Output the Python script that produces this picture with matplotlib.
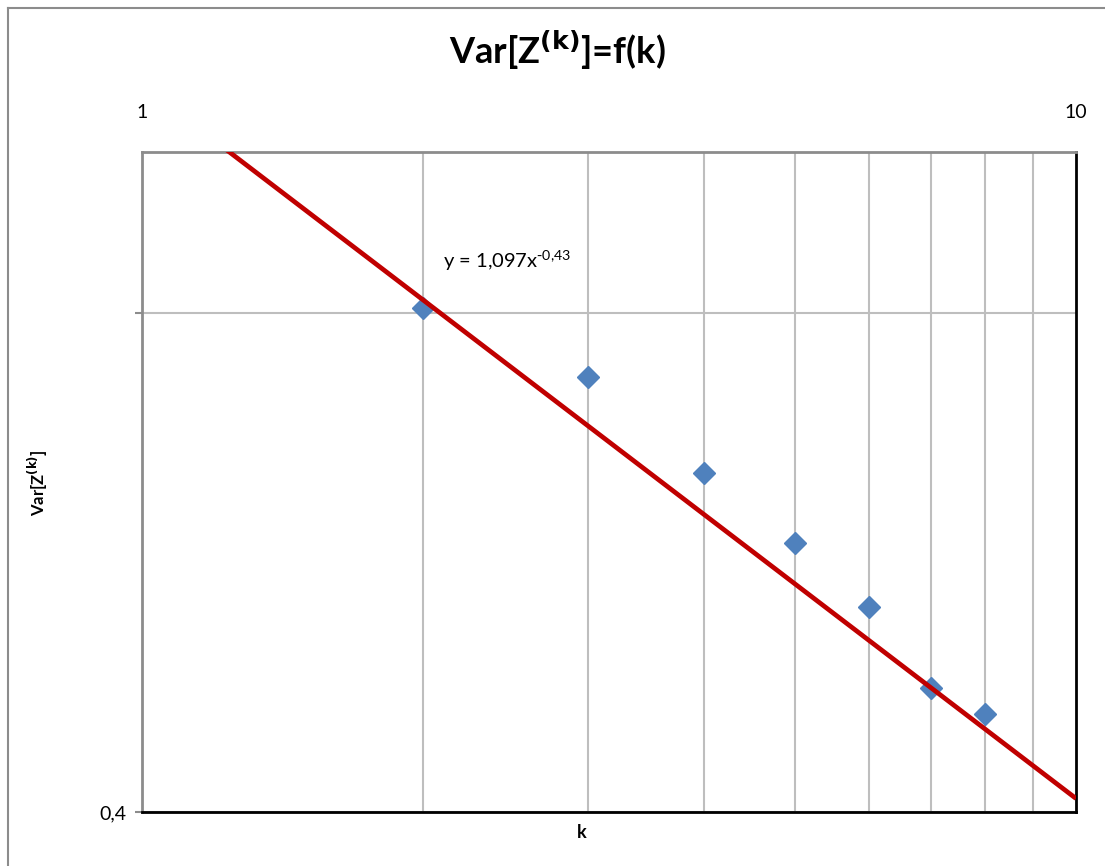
"""Var[Z^(k)] = f(k): log-log scatter with power trendline, Excel style."""

import matplotlib

matplotlib.use("Agg")
import matplotlib.pyplot as plt  # noqa: E402
from matplotlib.lines import Line2D  # noqa: E402
from matplotlib.ticker import NullFormatter, NullLocator  # noqa: E402

K = [2, 3, 4, 5, 6, 7, 8]
VAR_Z = [0.805, 0.732, 0.640, 0.581, 0.532, 0.475, 0.458]

# power trendline shown on the chart: y = 1,097 x^-0,43
TREND_A = 1.097
TREND_B = -0.43
TREND_K = [1.0, 10.0]

plt.rcParams["font.family"] = ["Lato", "DejaVu Sans"]

fig = plt.figure(figsize=(11.05, 8.66), dpi=100)
W, H = 1105, 866
left, right, top, bottom = 142, 1076, 152, 812
ax = fig.add_axes([left / W, 1 - bottom / H, (right - left) / W, (bottom - top) / H])

# chart-area border (only top/left edges are inside the picture)
for xs, ys in (([8 / W, 8 / W], [0, 1 - 8 / H]), ([8 / W, 1], [1 - 8 / H, 1 - 8 / H])):
    fig.add_artist(Line2D(xs, ys, transform=fig.transFigure, color="#8c8c8c", linewidth=1.5))

ax.set_xscale("log")
ax.set_yscale("log")
ax.set_xlim(1, 10)
ax.set_ylim(0.4, 1.0)

trend = [TREND_A * k ** TREND_B for k in TREND_K]
ax.plot(K, VAR_Z, linestyle="none", marker="D", markersize=11, color="#4F81BD", zorder=3)
ax.plot(TREND_K, trend, color="#C00000", linewidth=3.4, zorder=4, solid_capstyle="butt")

ax.xaxis.tick_top()
ax.set_xticks([1, 10])
ax.set_xticklabels(["1", "10"], fontsize=14)
ax.set_xticks([2, 3, 4, 5, 6, 7, 8, 9], minor=True)
ax.xaxis.set_minor_formatter(NullFormatter())
ax.tick_params(axis="x", which="minor", length=0)
ax.tick_params(axis="x", which="major", length=0, pad=22)
ax.grid(True, axis="x", which="minor", color="#BEBEBE", linewidth=1.5)

ax.set_yticks([0.4, 0.8])
ax.set_yticklabels(["0,4", ""], fontsize=14)
ax.yaxis.set_minor_locator(NullLocator())
ax.yaxis.set_minor_formatter(NullFormatter())
ax.tick_params(axis="y", which="major", length=5, color="#8c8c8c", width=1.5, pad=6)
ax.grid(True, axis="y", which="major", color="#BEBEBE", linewidth=1.5)

for side in ("left", "top"):
    ax.spines[side].set_color("#8c8c8c")
    ax.spines[side].set_linewidth(2)
for side in ("right", "bottom"):
    ax.spines[side].set_color("black")
    ax.spines[side].set_linewidth(2)

ax.text(2.1, 0.852, r"y = 1,097x$^{\mathregular{\text{-}0{,}43}}$", fontsize=14.5)

fig.text(557 / W, 1 - 50 / H, r"Var[Z$^{\mathbf{(k)}}$]=f(k)", ha="center", va="center",
         fontsize=26, fontweight="bold")
fig.text(38 / W, 1 - 483 / H, r"Var[Z$^{\mathbf{(k)}}$]", ha="center", va="center",
         rotation=90, fontsize=12, fontweight="bold")
fig.text(582 / W, 1 - 832 / H, "k", ha="center", va="center", fontsize=13, fontweight="bold")

fig.savefig("out.png", dpi=100)
